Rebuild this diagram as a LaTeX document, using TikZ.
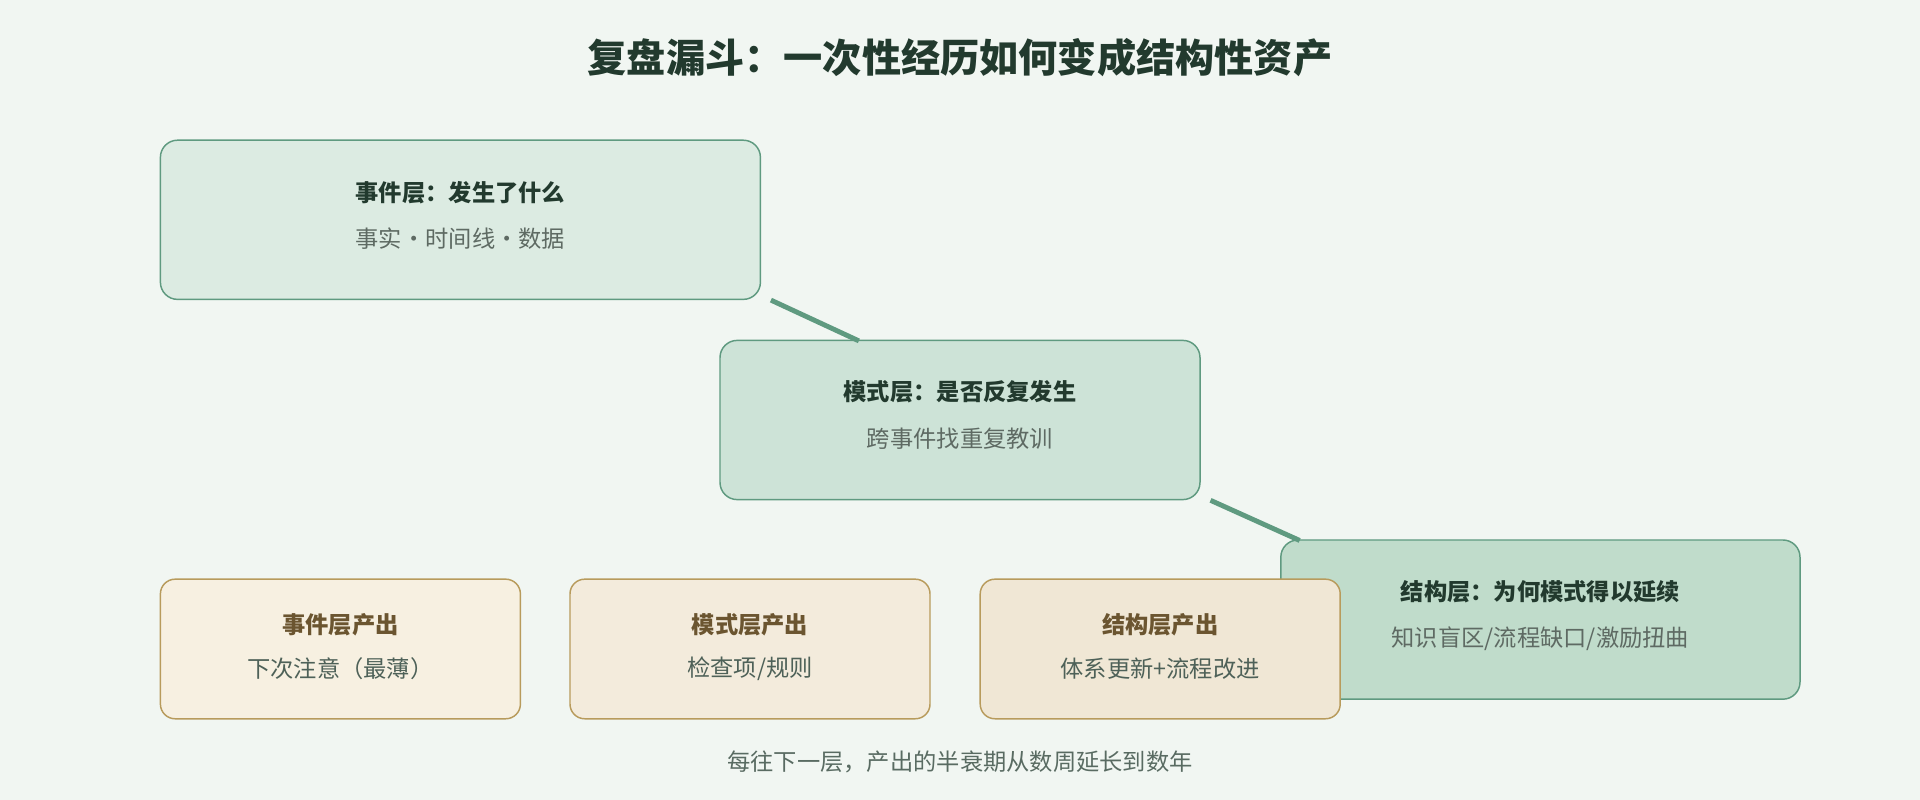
\documentclass[tikz,border=0pt]{standalone}
\usepackage{fontspec}
\setmainfont{Noto Sans CJK SC}
\usetikzlibrary{calc}
\definecolor{bg}{HTML}{F1F6F2}
\definecolor{gb}{HTML}{5F9A80}
\definecolor{g1}{HTML}{DCEBE2}
\definecolor{g2}{HTML}{CDE3D7}
\definecolor{g3}{HTML}{C0DCCB}
\definecolor{yb}{HTML}{B89B5C}
\definecolor{y1}{HTML}{F7F0E1}
\definecolor{y2}{HTML}{F3EBDC}
\definecolor{y3}{HTML}{F0E7D5}
\definecolor{dk}{HTML}{223A2E}
\definecolor{sub}{HTML}{5E6A63}
\definecolor{br}{HTML}{6B5530}
\begin{document}
\begin{tikzpicture}[x=1pt,y=1pt,
 gbox/.style={draw=gb,line width=1.2pt,rounded corners=14pt,minimum width=#1,minimum height=130pt,inner sep=0},
 ybox/.style={draw=yb,line width=1.2pt,rounded corners=12pt,minimum width=294pt,minimum height=114pt,inner sep=0},
 ttl/.style={font=\bfseries\fontsize{19}{22}\selectfont,text=dk},
 ytt/.style={font=\bfseries\fontsize{19}{22}\selectfont,text=br},
 st/.style={font=\fontsize{19}{22}\selectfont,text=sub},
 con/.style={draw=gb,line width=4pt}]
\fill[bg] (0,0) rectangle (1568,653);
\useasboundingbox (0,0) rectangle (1568,653);
\node[font=\bfseries\fontsize{32}{38}\selectfont,text=dk] (title) at (784,606) {复盘漏斗：一次性经历如何变成结构性资产};
\node[gbox=490pt,fill=g1] (b1) at (376,473.5) {};
\node[ttl] (b1t) at (376,496) {事件层：发生了什么};
\node[st] (b1s) at (376,458) {事实·时间线·数据};
\node[gbox=392pt,fill=g2] (b2) at (784,310) {};
\node[ttl] (b2t) at (784,333) {模式层：是否反复发生};
\node[st] (b2s) at (784,295) {跨事件找重复教训};
\node[gbox=424pt,fill=g3] (b3) at (1258,147) {};
\node[ttl] (b3t) at (1258,170) {结构层：为何模式得以延续};
\node[st] (b3s) at (1258,131) {知识盲区/流程缺口/激励扭曲};
\draw[con] ($(b1.south east)+(8,0)$) -- ($(b2.north west)+(114,-1)$);
\draw[con] ($(b2.south east)+(8,0)$) -- ($(b3.north west)+(16,-1)$);
\node[ybox,fill=y1] (p1) at (278,123) {};
\node[ytt] (p1t) at (278,143) {事件层产出};
\node[st,text=dk!80] (p1s) at (278,107) {下次注意（最薄）};
\node[ybox,fill=y2] (p2) at (612.5,123) {};
\node[ytt] (p2t) at (612.5,143) {模式层产出};
\node[st,text=dk!80] (p2s) at (612.5,107) {检查项/规则};
\node[ybox,fill=y3] (p3) at (947.5,123) {};
\node[ytt] (p3t) at (947.5,143) {结构层产出};
\node[st,text=dk!80] (p3s) at (947.5,107) {体系更新+流程改进};
\node[st,text=dk!75] (foot) at (784,31) {每往下一层，产出的半衰期从数周延长到数年};
\end{tikzpicture}
\end{document}
